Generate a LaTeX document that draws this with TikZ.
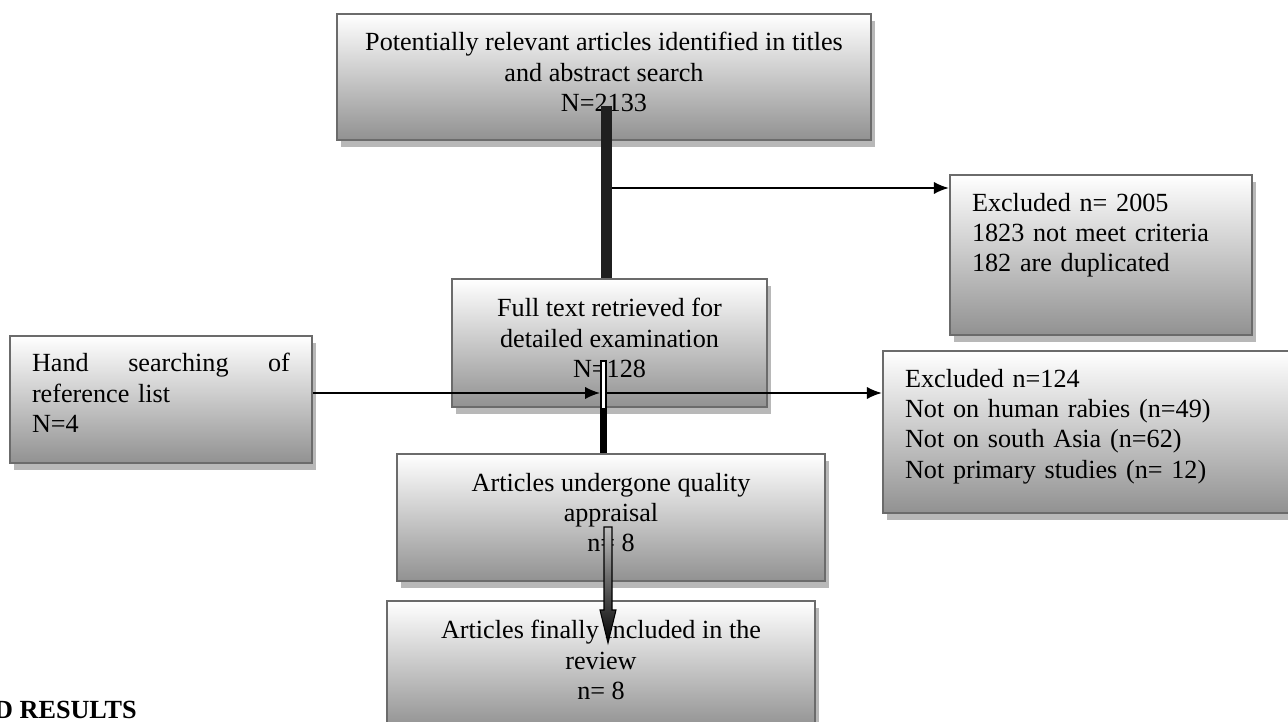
\documentclass[tikz,border=0pt]{standalone}
\usepackage{fontspec}
\setmainfont{Liberation Serif}
\usetikzlibrary{positioning, shadows, arrows.meta, calc}

\begin{document}
\begin{tikzpicture}[x=0.02cm, y=-0.02cm, >={Latex[length=8.5pt,width=7pt]},
  font=\fontsize{14.9}{17.3}\selectfont,
  box/.style={draw=black!58, line width=1.4pt, top color=white, bottom color=black!43,
    minimum height=2.54cm, inner xsep=0.44cm, text depth=0.2cm,
    drop shadow={shadow xshift=0.08cm, shadow yshift=-0.14cm, fill=black!28, opacity=1}},
  cbox/.style={box, align=center, minimum width=8.56cm},
  lbox/.style={box, align=left, text width=5.16cm, text depth=1.48cm},
  flow/.style={->, line width=1pt},
  thickbar/.style={line width=6pt, black!88}]

  \useasboundingbox (0,0) rectangle (1288,722);

  \node[cbox, minimum width=10.68cm, minimum height=2.52cm] (search) at (604,77) {Potentially relevant articles identified in titles\\and abstract search\\N=2133};
  \node[lbox, minimum height=3.2cm, text depth=2.12cm] (excl-dup) at (1101,255) {Excluded n= 2005\\1823 not meet criteria\\182 are duplicated};
  \node[cbox, minimum width=6.3cm, minimum height=2.56cm] (fulltext) at (609.5,343) {Full text retrieved for\\detailed examination\\N=128};
  \node[lbox] (hand) at (161,399.5) {Hand\hfill searching\hfill of\\reference list\\N=4};
  \node[box, align=left, text width=7.36cm, minimum height=3.24cm, text depth=2.16cm] (excl-scope) at (1089,432) {Excluded n=124\\Not on human rabies (n=49)\\Not on south Asia (n=62)\\Not primary studies (n= 12)};
  \node[cbox] (appraisal) at (611,517.5) {Articles undergone quality\\appraisal\\n= 8};
  \node[cbox, minimum height=2.56cm] (included) at (601,665) {Articles finally included in the\\review\\n= 8};

  \node[font=\fontsize{14.9}{17.3}\selectfont\bfseries, anchor=base west] (results) at (-12,718.5) {D RESULTS};

  \coordinate (bar1) at (606.5,106);
  \coordinate (split1) at (612,188);
  \coordinate (bar2) at (603.5,360);
  \coordinate (join-in) at (600,393);
  \coordinate (join-out) at (607,393);
  \coordinate (bar3) at (608,527);
  \coordinate (bar3-tip) at (608,643);

  \draw[thickbar] (bar1) -- (bar1 |- fulltext.north);
  \draw[flow] (split1) -- (split1 -| excl-dup.west);

  \draw[line width=4pt] (bar2) -- (bar2 |- appraisal.north);
  \draw[line width=1.6pt, white] ($(bar2)+(0,2)$) -- (bar2 |- fulltext.south);
  \draw[flow] (hand.east |- join-in) -- (join-in);
  \draw[flow] (join-out) -- (join-out -| excl-scope.west);

  \shade[top color=black!25, bottom color=black, draw=black, line width=0.6pt]
    ($(bar3)+(-4,0)$) -- ($(bar3)+(4,0)$) -- ($(bar3-tip)+(4,-33)$) -- ($(bar3-tip)+(8,-33)$)
    -- (bar3-tip) -- ($(bar3-tip)+(-8,-33)$) -- ($(bar3-tip)+(-4,-33)$) -- cycle;

\end{tikzpicture}
\end{document}
